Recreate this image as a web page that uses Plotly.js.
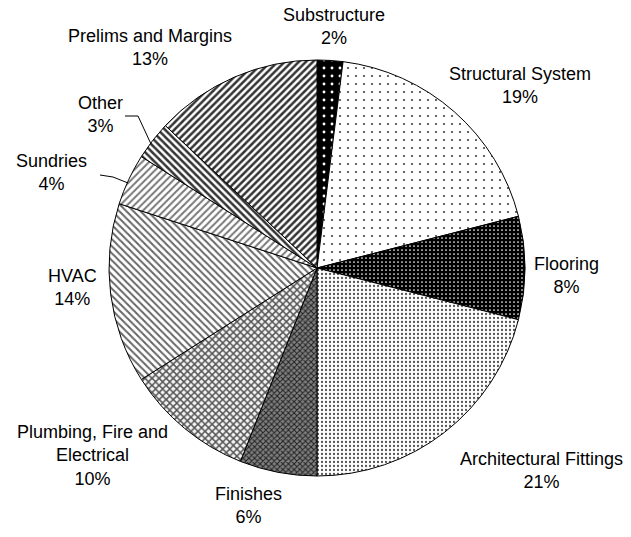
<!DOCTYPE html>
<html>
<head>
<meta charset="utf-8">
<script src="https://cdn.plot.ly/plotly-3.0.1.min.js"></script>
<style>html,body{margin:0;padding:0;background:#fff;}#chart{width:631px;height:537px;}</style>
</head>
<body>
<div id="chart"></div>
<script>
// ---- data ----
var categories = ["Substructure", "Structural System", "Flooring", "Architectural Fittings", "Finishes",
  "Plumbing, Fire and Electrical", "HVAC", "Sundries", "Other", "Prelims and Margins"];
var shares = [2, 19, 8, 21, 6, 10, 14, 4, 3, 13];
var labelText = ["Substructure", "Structural System", "Flooring", "Architectural Fittings", "Finishes",
  "Plumbing, Fire and<br>Electrical", "HVAC", "Sundries", "Other", "Prelims and Margins"];

// ---- styles ----
var patShape = [".", ".", ".", ".", "x", "x", "\\", "/", "\\", "/"];
var patFg = ["#ffffff", "#444444", "#ffffff", "#555555", "#222222", "#555555", "#666666", "#777777", "#333333", "#333333"];
var patBg = ["#000000", "#ffffff", "#000000", "#ffffff", "#808080", "#f4f4f4", "#ffffff", "#ffffff", "#ffffff", "#ffffff"];
var patSize = [8, 8, 4, 4, 4, 5, 5, 5, 5, 5];
var patSolid = [0.1, 0.06, 0.15, 0.25, 0.45, 0.5, 0.4, 0.4, 0.5, 0.5];

// label block centres (pixels in page)
var labelPx = [[334, 27], [520, 85], [566, 275], [541, 470], [248, 505], [92, 455], [72, 287], [52, 172], [100, 115], [150, 47]];

var W = 631, H = 537;
var M = {l: 109, r: 106, t: 60, b: 61};
var pw = W - M.l - M.r, ph = H - M.t - M.b;
function px2x(p) { return (p - M.l) / pw; }
function py2y(p) { return (H - M.b - p) / ph; }

var total = shares.reduce(function (a, b) { return a + b; }, 0);
var annotations = categories.map(function (c, i) {
  return {
    xref: "paper", yref: "paper",
    x: px2x(labelPx[i][0]), y: py2y(labelPx[i][1]),
    xanchor: "center", yanchor: "middle",
    text: labelText[i] + "<br>" + Math.round(shares[i] / total * 100) + "%",
    showarrow: false,
    font: {family: "Liberation Sans, Arial, sans-serif", size: 18, color: "#000"}
  };
});

var leaders = [
  [[125, 116], [138, 116], [151, 144]],
  [[100, 175], [113, 177], [128, 183]]
];
var shapes = [];
leaders.forEach(function (pts) {
  for (var k = 0; k < pts.length - 1; k++) {
    shapes.push({type: "line", xref: "paper", yref: "paper",
      x0: px2x(pts[k][0]), y0: py2y(pts[k][1]), x1: px2x(pts[k + 1][0]), y1: py2y(pts[k + 1][1]),
      line: {color: "#000", width: 1}});
  }
});

var trace = {
  type: "pie",
  labels: categories,
  values: shares,
  sort: false,
  direction: "clockwise",
  rotation: 0,
  textinfo: "none",
  hoverinfo: "label+percent",
  marker: {
    colors: patBg,
    line: {color: "#000", width: 1},
    pattern: {shape: patShape, fgcolor: patFg, bgcolor: patBg, size: patSize, solidity: patSolid, fillmode: "replace"}
  }
};

var layout = {
  width: W, height: H,
  margin: M,
  showlegend: false,
  paper_bgcolor: "#fff",
  plot_bgcolor: "#fff",
  annotations: annotations,
  shapes: shapes
};

Plotly.newPlot("chart", [trace], layout, {displayModeBar: false, staticPlot: true});
</script>
</body>
</html>
